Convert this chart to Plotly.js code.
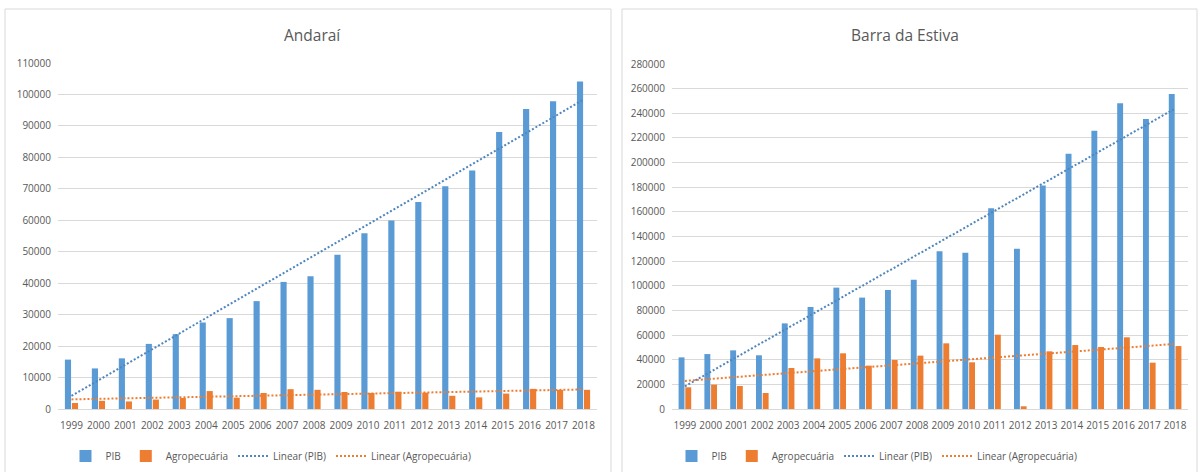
<!DOCTYPE html>
<html>
<head>
<meta charset="utf-8">
<script src="https://cdn.plot.ly/plotly-3.0.1.min.js"></script>
<style>html,body{margin:0;padding:0;background:#fff;}#chart{width:1200px;height:472px;}</style>
</head>
<body>
<div id="chart"></div>
<script>
const years = ["1999","2000","2001","2002","2003","2004","2005","2006","2007","2008","2009","2010","2011","2012","2013","2014","2015","2016","2017","2018"];
const andaraiPIB = [15700,12900,16100,20700,23800,27500,28900,34300,40400,42200,49000,55900,59900,65800,70800,75800,88100,95400,97800,104100];
const andaraiAgro = [1900,2600,2400,3000,3500,5700,3600,5100,6300,6100,5400,5100,5500,5200,4200,3700,4900,6400,6100,6100];
const barraPIB = [41900,44600,47600,43600,69500,82800,98500,90400,96600,105000,128000,126900,162900,130100,181300,207200,225900,248100,235400,255700];
const barraAgro = [17600,19800,18700,13000,33300,41100,45200,35200,39800,43300,53300,37900,60300,2200,46800,51900,50300,58200,37600,51100];
const titles = ["Andaraí", "Barra da Estiva"];
const names = ["PIB", "Agropecuária", "Linear (PIB)", "Linear (Agropecuária)"];

function linfit(ys){
  const n = ys.length; let sx=0, sy=0, sxx=0, sxy=0;
  for(let i=0;i<n;i++){ sx+=i; sy+=ys[i]; sxx+=i*i; sxy+=i*ys[i]; }
  const b = (n*sxy - sx*sy)/(n*sxx - sx*sx);
  const a = (sy - b*sx)/n;
  return ys.map((_,i)=>a+b*i);
}

const BLUE = '#5B9BD5', ORANGE = '#ED7D31', TXT = '#595959', GRID = '#d9d9d9';
const FONT = 'Open Sans, Lato, sans-serif';

function panelTraces(pib, agro, xa, ya, leg){
  return [
    {type:'bar', x:years, y:pib, name:names[0], marker:{color:BLUE}, xaxis:xa, yaxis:ya, legend:leg},
    {type:'bar', x:years, y:agro, name:names[1], marker:{color:ORANGE}, xaxis:xa, yaxis:ya, legend:leg},
    {type:'scatter', mode:'lines', x:years, y:linfit(pib), name:names[2], line:{color:'#4F86BC', width:2, dash:'2px,2px'}, xaxis:xa, yaxis:ya, legend:leg},
    {type:'scatter', mode:'lines', x:years, y:linfit(agro), name:names[3], line:{color:ORANGE, width:2, dash:'2px,2px'}, xaxis:xa, yaxis:ya, legend:leg}
  ];
}

const data = panelTraces(andaraiPIB, andaraiAgro, 'x', 'y', 'legend')
  .concat(panelTraces(barraPIB, barraAgro, 'x2', 'y2', 'legend2'));

function xax(d0, d1, anchor){
  return {domain:[d0/1200, d1/1200], anchor:anchor, type:'category', showgrid:false,
    showline:true, linecolor:GRID, linewidth:1, ticks:'', ticklabelstandoff:7,
    tickfont:{family:FONT, size:10, color:TXT}, fixedrange:true};
}
function yax(top, max, dtick, anchor){
  return {domain:[63/472, top/472], anchor:anchor, range:[0,max], dtick:dtick, tickformat:'d',
    showgrid:true, gridcolor:GRID, gridwidth:1, zeroline:false, showline:false, ticks:'',
    ticklabelstandoff:6, tickfont:{family:FONT, size:10, color:TXT}, fixedrange:true};
}
const legFont = {family:FONT, size:10, color:TXT};

const layout = {
  width:1200, height:472, margin:{l:0,r:0,t:0,b:0},
  paper_bgcolor:'#fff', plot_bgcolor:'#fff',
  barmode:'group', bargap:0.48, bargroupgap:0.12,
  xaxis: xax(58, 597, 'y'),
  yaxis: yax(409, 110000, 10000, 'x'),
  xaxis2: xax(672, 1188, 'y2'),
  yaxis2: yax(408, 280000, 20000, 'x2'),
  legend: {orientation:'h', x:271/1200, xanchor:'center', y:16/472, yanchor:'middle', font:legFont, bgcolor:'rgba(0,0,0,0)'},
  legend2: {orientation:'h', x:877/1200, xanchor:'center', y:16/472, yanchor:'middle', font:legFont, bgcolor:'rgba(0,0,0,0)'},
  annotations:[
    {text:titles[0], xref:'paper', yref:'paper', x:312/1200, y:(472-35)/472, xanchor:'center', yanchor:'middle', showarrow:false, font:{family:FONT, size:15.5, color:TXT}},
    {text:titles[1], xref:'paper', yref:'paper', x:905/1200, y:(472-35)/472, xanchor:'center', yanchor:'middle', showarrow:false, font:{family:FONT, size:15.5, color:TXT}}
  ],
  shapes:[
    {type:'rect', xref:'paper', yref:'paper', x0:5/1200, x1:611/1200, y0:-0.05, y1:(472-9)/472, line:{color:GRID, width:1}},
    {type:'rect', xref:'paper', yref:'paper', x0:622/1200, x1:1197/1200, y0:-0.05, y1:(472-9)/472, line:{color:GRID, width:1}}
  ],
  showlegend:true
};

Plotly.newPlot('chart', data, layout, {displayModeBar:false, staticPlot:true});
</script>
</body>
</html>
